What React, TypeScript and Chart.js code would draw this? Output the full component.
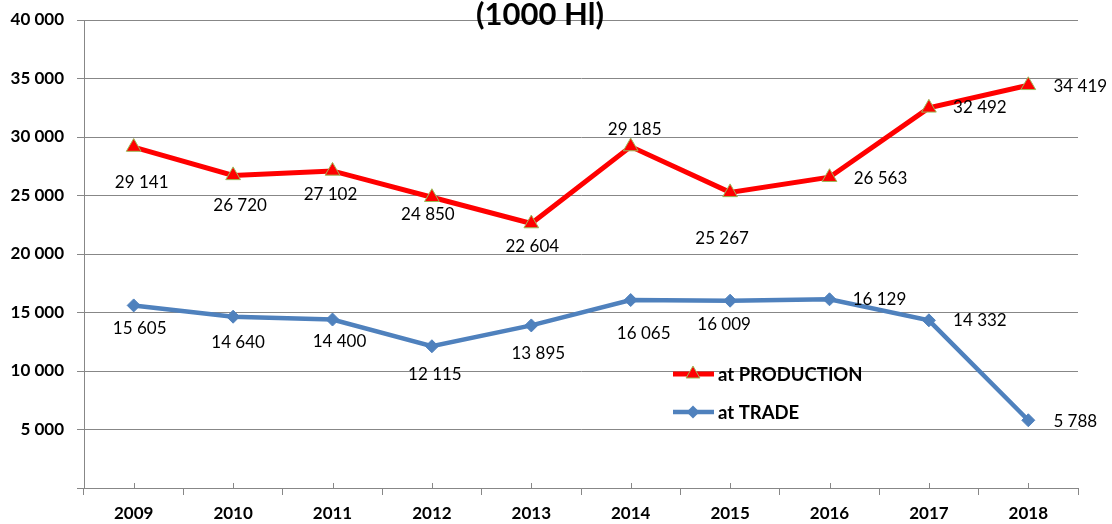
import React, { useEffect, useRef } from 'react';
import { Chart, registerables } from 'chart.js';

Chart.register(...registerables);

const years = ['2009', '2010', '2011', '2012', '2013', '2014', '2015', '2016', '2017', '2018'];
const production = [29141, 26720, 27102, 24850, 22604, 29185, 25267, 26563, 32492, 34419];
const trade = [15605, 14640, 14400, 12115, 13895, 16065, 16009, 16129, 14332, 5788];
const yMin = 0;
const yMax = 40000;
const yStep = 5000;
const titleText = '(1000 Hl)';
const productionName = 'at PRODUCTION';
const tradeName = 'at TRADE';

// label placement (pixel offsets from each point), styling only
const productionLabelOffsets = [[8, 35], [7, 30], [-2, 24], [-4, 17], [1, 23], [4, -17], [-8, 46], [51, 1], [51, 0], [52, 1]];
const tradeLabelOffsets = [[6, 23], [5, 26], [7, 22], [3, 28], [7, 28], [13, 33], [-6, 24], [50, 0], [51, 0], [47, 1]];

const RED = '#FF0000';
const BLUE = '#4F81BD';
const GREEN = '#9BBB59';
const GRID = '#878787';
const FONT = 'Lato, "Open Sans", sans-serif';

const fmt = (v: number) => Math.round(v).toString().replace(/\B(?=(\d{3})+(?!\d))/g, ' ');

const extrasPlugin = {
  id: 'extras',
  afterDatasetsDraw(chart: any) {
    const ctx = chart.ctx;
    ctx.save();
    ctx.font = `17px ${FONT}`;
    ctx.fillStyle = '#000';
    ctx.textAlign = 'center';
    ctx.textBaseline = 'middle';
    const offsets = [productionLabelOffsets, tradeLabelOffsets];
    chart.data.datasets.forEach((ds: any, di: number) => {
      const meta = chart.getDatasetMeta(di);
      meta.data.forEach((pt: any, i: number) => {
        const off = offsets[di][i];
        ctx.fillText(fmt(ds.data[i]), pt.x + off[0], pt.y + off[1]);
      });
    });
    ctx.restore();
  },
  afterDraw(chart: any) {
    const ctx = chart.ctx;
    const area = chart.chartArea;
    const xs = chart.scales.x;
    ctx.save();
    // small upward ticks at category centres
    ctx.strokeStyle = GRID;
    ctx.lineWidth = 1;
    years.forEach((_, i) => {
      const x = Math.round(xs.getPixelForValue(i)) + 0.5;
      ctx.beginPath();
      ctx.moveTo(x, area.bottom - 5);
      ctx.lineTo(x, area.bottom);
      ctx.stroke();
    });
    // title
    ctx.font = `bold 31px ${FONT}`;
    ctx.fillStyle = '#000';
    ctx.textAlign = 'center';
    ctx.textBaseline = 'middle';
    ctx.fillText(titleText, 540, 15);
    // legend
    const items = [
      { name: productionName, color: RED, y: 374, marker: 'tri', width: 5 },
      { name: tradeName, color: BLUE, y: 412, marker: 'dia', width: 4.5 },
    ];
    items.forEach((it) => {
      ctx.strokeStyle = it.color;
      ctx.lineWidth = it.width;
      ctx.beginPath();
      ctx.moveTo(673, it.y);
      ctx.lineTo(714, it.y);
      ctx.stroke();
      const cx = 693;
      ctx.beginPath();
      if (it.marker === 'tri') {
        const r = 8;
        ctx.moveTo(cx, it.y - r);
        ctx.lineTo(cx + r * 0.866, it.y + r * 0.5);
        ctx.lineTo(cx - r * 0.866, it.y + r * 0.5);
        ctx.closePath();
        ctx.fillStyle = RED;
        ctx.fill();
        ctx.strokeStyle = GREEN;
        ctx.lineWidth = 1;
        ctx.stroke();
      } else {
        const r = 6.5;
        ctx.moveTo(cx, it.y - r);
        ctx.lineTo(cx + r, it.y);
        ctx.lineTo(cx, it.y + r);
        ctx.lineTo(cx - r, it.y);
        ctx.closePath();
        ctx.fillStyle = BLUE;
        ctx.fill();
      }
      ctx.font = `bold 18.5px ${FONT}`;
      ctx.fillStyle = '#000';
      ctx.textAlign = 'left';
      ctx.textBaseline = 'middle';
      ctx.fillText(it.name, 718, it.y + 1);
    });
    ctx.restore();
  },
};

export default function App() {
  const ref = useRef<HTMLCanvasElement | null>(null);
  useEffect(() => {
    if (!ref.current) return;
    const chart = new Chart(ref.current, {
      type: 'line',
      data: {
        labels: years,
        datasets: [
          {
            label: productionName,
            data: production,
            borderColor: RED,
            backgroundColor: RED,
            borderWidth: 5,
            pointStyle: 'triangle',
            pointRadius: 8.5,
            pointBackgroundColor: RED,
            pointBorderColor: GREEN,
            pointBorderWidth: 1,
            tension: 0,
          },
          {
            label: tradeName,
            data: trade,
            borderColor: BLUE,
            backgroundColor: BLUE,
            borderWidth: 4.5,
            pointStyle: 'rectRot',
            pointRadius: 6.5,
            pointBackgroundColor: BLUE,
            pointBorderColor: BLUE,
            pointBorderWidth: 1,
            tension: 0,
          },
        ],
      },
      options: {
        responsive: false,
        animation: false,
        layout: { padding: { top: 20, right: 34, left: 0, bottom: 0 } },
        plugins: {
          legend: { display: false },
          title: { display: false },
          tooltip: { enabled: false },
        },
        scales: {
          x: {
            type: 'category',
            offset: true,
            grid: {
              offset: true,
              drawOnChartArea: false,
              drawTicks: true,
              tickLength: 7,
              color: GRID,
            },
            border: { display: true, color: GRID, width: 1 },
            ticks: {
              color: '#000',
              font: { family: FONT, size: 17, weight: 'bold' },
              padding: 8,
              maxRotation: 0,
            },
            afterFit: (s: any) => { s.height = 36; s.paddingLeft = 0; s.paddingRight = 0; },
          },
          y: {
            min: yMin,
            max: yMax,
            grid: {
              color: GRID,
              drawTicks: true,
              tickLength: 7,
            },
            border: { display: true, color: GRID, width: 1 },
            ticks: {
              stepSize: yStep,
              color: '#000',
              font: { family: FONT, size: 17, weight: 'bold' },
              padding: 13,
              callback: (v: any) => (Number(v) === 0 ? '' : fmt(Number(v))),
            },
            afterFit: (s: any) => { s.width = 84; s.paddingTop = 0; s.paddingBottom = 0; },
          },
        },
      },
      plugins: [extrasPlugin],
    });
    return () => chart.destroy();
  }, []);
  return (
    <div style={{ position: 'absolute', left: 0, top: 0, width: 1112, height: 524, background: '#fff' }}>
      <canvas ref={ref} width={1112} height={524} style={{ display: 'block' }} />
    </div>
  );
}
